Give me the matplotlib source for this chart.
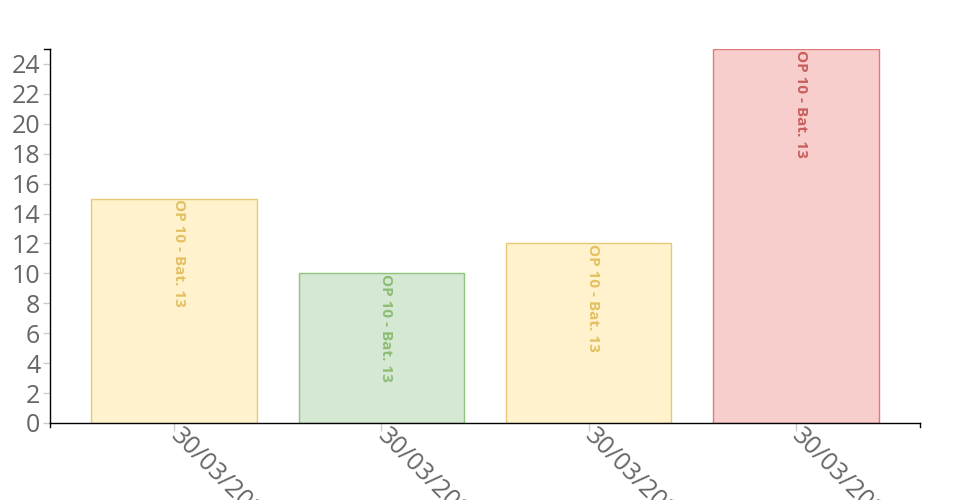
import matplotlib
matplotlib.use("Agg")
import matplotlib.pyplot as plt

categories = ["30/03/2023", "30/03/2023", "30/03/2023", "30/03/2023"]
values = [15, 10, 12, 25]
bar_labels = ["OP 10 - Bat. 13"] * 4
fills = ["#fff2cc", "#d5e8d4", "#fff2cc", "#f8cecc"]
edges = ["#e6c878", "#8fc47a", "#e6c878", "#e07a77"]
text_colors = ["#e3c062", "#8dbd74", "#e3c062", "#c85f5c"]
yticks = list(range(0, 25, 2))

plt.rcParams['font.family'] = ['Open Sans', 'DejaVu Sans']

W, H = 960, 500
fig = plt.figure(figsize=(W / 100, H / 100), dpi=100)
left, right, top, bottom = 50, 920, 49, 423
ax = fig.add_axes([left / W, 1 - bottom / H, (right - left) / W, (bottom - top) / H])

x = list(range(len(values)))
ax.bar(x, values, width=0.8, color=fills, edgecolor=edges, linewidth=1.0)
ax.set_xlim(-0.6, len(values) - 0.4)
ax.set_ylim(0, 25)

for xi, v, lab, tc in zip(x, values, bar_labels, text_colors):
    ax.annotate(lab, (xi, v), xytext=(-1.5, -0.5), textcoords='offset points',
                rotation=-90, ha='left', va='top', fontsize=11,
                fontweight='bold', color=tc)

ax.set_yticks(yticks)
ax.set_yticklabels([str(t) for t in yticks], fontsize=18, color='#666666')
ax.set_xticks(x)
ax.set_xticklabels(categories, fontsize=18, color='#666666', rotation=-45,
                   ha='left', va='center', rotation_mode='anchor')
ax.tick_params(axis='y', length=5, width=1, color='#cccccc', pad=2)
ax.tick_params(axis='x', length=6, width=1, color='#cccccc', pad=1)

for s in ['top', 'right']:
    ax.spines[s].set_visible(False)
for s in ['left', 'bottom']:
    ax.spines[s].set_color('black')
    ax.spines[s].set_linewidth(1)
ax.spines['left'].set_bounds(0, 25)

# domain end ticks (d3-style)
ax.plot([-0.6, -0.6], [0, -0.25], color='black', lw=1, clip_on=False)
ax.plot([len(values) - 0.4] * 2, [0, -0.25], color='black', lw=1, clip_on=False)
ax.plot([-0.6, -0.63], [25, 25], color='black', lw=1, clip_on=False)

fig.savefig("out.png", dpi=100)
